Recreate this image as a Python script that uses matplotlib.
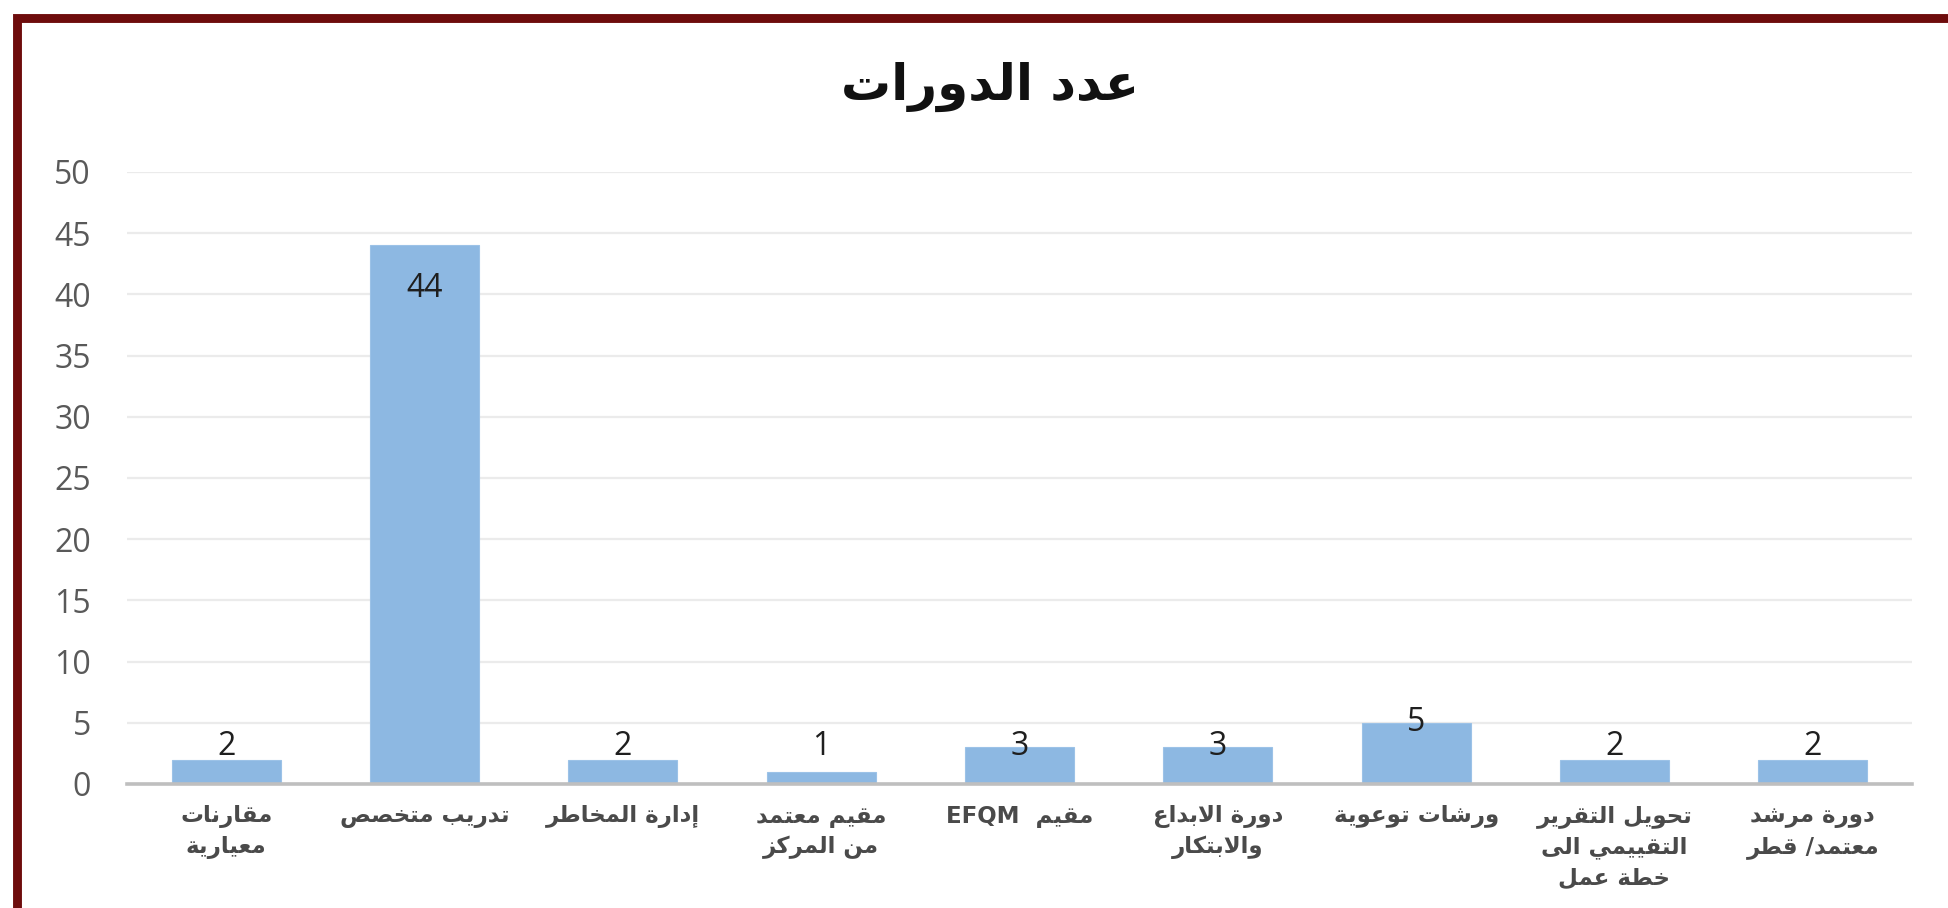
import matplotlib
matplotlib.use("Agg")
import matplotlib.pyplot as plt
from matplotlib.patches import Rectangle

# ---------------- data ----------------
title = "عدد الدورات"
categories = [
    "مقارنات\nمعيارية",
    "تدريب متخصص",
    "إدارة المخاطر",
    "مقيم معتمد\nمن المركز",
    "مقيم  EFQM",
    "دورة الابداع\nوالابتكار",
    "ورشات توعوية",
    "تحويل التقرير\nالتقييمي الى\nخطة عمل",
    "دورة مرشد\nمعتمد/ قطر",
]
values = [2, 44, 2, 1, 3, 3, 5, 2, 2]
yticks = [0, 5, 10, 15, 20, 25, 30, 35, 40, 45, 50]

# ---------------- minimal Arabic shaping + bidi ----------------
FOUR = {0x0626: 0xFE89, 0x0628: 0xFE8F, 0x062A: 0xFE95, 0x062B: 0xFE99, 0x062C: 0xFE9D,
        0x062D: 0xFEA1, 0x062E: 0xFEA5, 0x0633: 0xFEB1, 0x0634: 0xFEB5, 0x0635: 0xFEB9,
        0x0636: 0xFEBD, 0x0637: 0xFEC1, 0x0638: 0xFEC5, 0x0639: 0xFEC9, 0x063A: 0xFECD,
        0x0641: 0xFED1, 0x0642: 0xFED5, 0x0643: 0xFED9, 0x0644: 0xFEDD, 0x0645: 0xFEE1,
        0x0646: 0xFEE5, 0x0647: 0xFEE9, 0x064A: 0xFEF1}
TWO = {0x0622: 0xFE81, 0x0623: 0xFE83, 0x0624: 0xFE85, 0x0625: 0xFE87, 0x0627: 0xFE8D,
       0x0629: 0xFE93, 0x062F: 0xFEA9, 0x0630: 0xFEAB, 0x0631: 0xFEAD, 0x0632: 0xFEAF,
       0x0648: 0xFEED, 0x0649: 0xFEEF}
LAMALEF = {0x0622: 0xFEF5, 0x0623: 0xFEF7, 0x0625: 0xFEF9, 0x0627: 0xFEFB}


def _is_ar(c):
    return ord(c) in FOUR or ord(c) in TWO


def shape(s):
    chars = []
    i = 0
    while i < len(s):
        c = s[i]
        if ord(c) == 0x0644 and i + 1 < len(s) and ord(s[i + 1]) in LAMALEF:
            chars.append(("LA", LAMALEF[ord(s[i + 1])]))
            i += 2
        else:
            chars.append(("C", c))
            i += 1

    def joins_next(item):
        kind, v = item
        if kind == "LA":
            return False
        return ord(v) in FOUR

    def is_letter(item):
        kind, v = item
        return kind == "LA" or _is_ar(v)

    out = []
    for k, item in enumerate(chars):
        prev = chars[k - 1] if k > 0 else None
        nxt = chars[k + 1] if k + 1 < len(chars) else None
        link_prev = prev is not None and is_letter(prev) and joins_next(prev)
        kind, v = item
        if kind == "LA":
            out.append(chr(v + (1 if link_prev else 0)))
            continue
        cp = ord(v)
        link_next = nxt is not None and is_letter(nxt)
        if cp in FOUR:
            b = FOUR[cp]
            if link_prev and link_next:
                out.append(chr(b + 3))
            elif link_prev:
                out.append(chr(b + 1))
            elif link_next:
                out.append(chr(b + 2))
            else:
                out.append(chr(b))
        elif cp in TWO:
            b = TWO[cp]
            out.append(chr(b + 1) if link_prev else chr(b))
        else:
            out.append(v)
    return "".join(out)


def visual(s):
    lines = []
    for line in s.split("\n"):
        r = shape(line)[::-1]
        res, run = [], []
        for ch in r:
            if ch.isascii() and ch.isalnum():
                run.append(ch)
            else:
                if run:
                    res.extend(run[::-1])
                    run = []
                res.append(ch)
        if run:
            res.extend(run[::-1])
        lines.append("".join(res))
    return "\n".join(lines)


# ---------------- figure ----------------
W, H = 1949, 908
fig = plt.figure(figsize=(W / 100, H / 100), dpi=100)
fig.patch.set_facecolor("white")

fig.patches.append(Rectangle((17 / W, -0.2), 1.3, (H - 18) / H + 0.2,
                             transform=fig.transFigure, fill=False,
                             edgecolor="#6E0C0C", linewidth=6.4, zorder=0))

ax = fig.add_axes([127 / W, (H - 784) / H, (1912 - 127) / W, (784 - 172) / H])
x = list(range(len(values)))
ax.bar(x, values, width=0.55, color="#8DB8E2", edgecolor="#9CC2E7", linewidth=0.8, zorder=3)

ax.set_xlim(-0.5, len(values) - 0.5)
ax.set_ylim(0, 50)
ax.set_yticks(yticks)
ax.set_yticklabels([str(t) for t in yticks], family="Open Sans", fontsize=23, color="#595959")
ax.tick_params(axis="y", length=0, pad=26)
ax.grid(axis="y", color="#EBEBEB", linewidth=1.6, zorder=0)
ax.set_axisbelow(True)
for s in ["left", "right", "top"]:
    ax.spines[s].set_visible(False)
ax.spines["bottom"].set_color("#BFBFBF")
ax.spines["bottom"].set_linewidth(2.6)
ax.spines["bottom"].set_zorder(4)

ax.set_xticks(x)
ax.set_xticklabels([visual(c) for c in categories], family="DejaVu Sans", fontsize=16.5,
                   fontweight="bold", color="#4A4A4A", linespacing=1.42, va="top")
ax.tick_params(axis="x", length=0, pad=15)

for xi, v in zip(x, values):
    ly = v - 3.5 if v - 3.5 > 3.1 else max(v, 3.1)
    ax.text(xi, ly, str(v), ha="center", va="center", family="Open Sans",
            fontsize=23, color="#1F1F1F", zorder=5)

fig.text(990 / W, 1 - 87 / H, visual(title), ha="center", va="center",
         family="DejaVu Sans", fontweight="bold", fontsize=36, color="#111111")

fig.savefig("out.png", dpi=100, facecolor="white")
